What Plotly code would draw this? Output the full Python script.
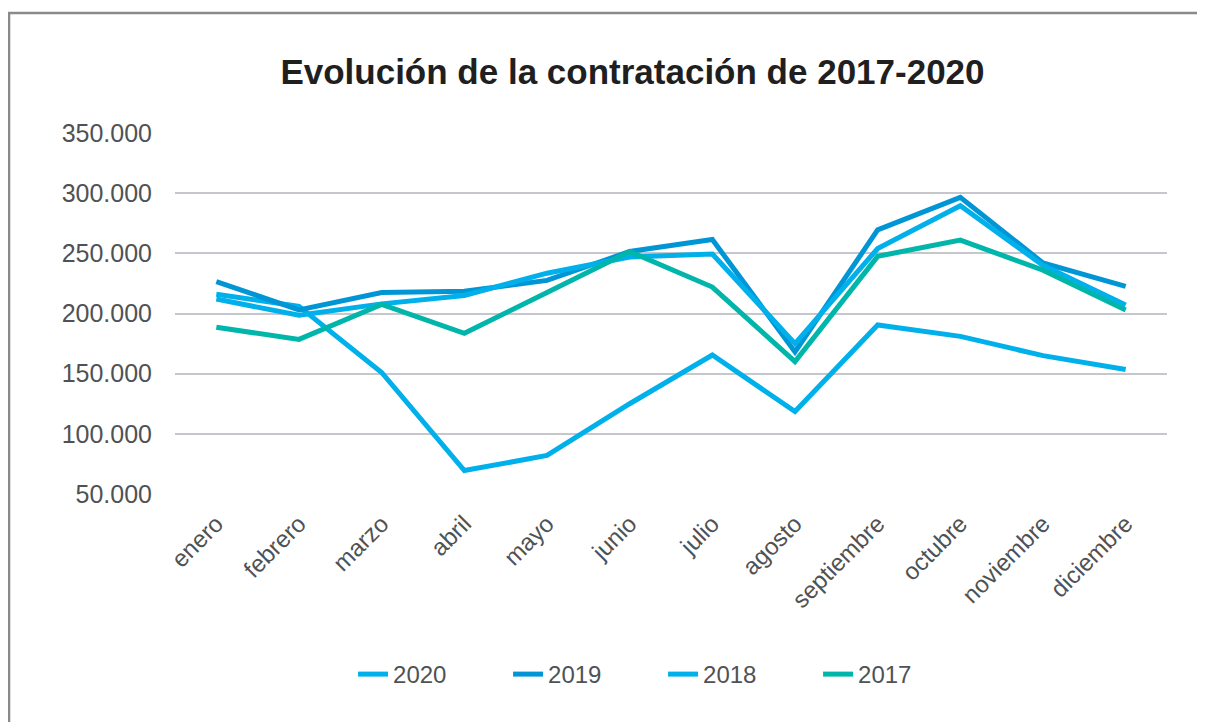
import plotly.graph_objects as go

meses = ["enero", "febrero", "marzo", "abril", "mayo", "junio", "julio",
         "agosto", "septiembre", "octubre", "noviembre", "diciembre"]
v2020 = [216000, 206000, 151000, 69500, 82000, 125000, 165500, 118500, 190500, 181000, 165000, 153500]
v2019 = [226500, 203000, 217500, 218500, 227500, 251500, 261500, 168000, 269500, 296500, 242000, 222500]
v2018 = [212000, 198500, 208000, 215000, 233500, 247000, 249500, 175000, 254000, 289500, 240000, 207000]
v2017 = [188500, 178500, 207500, 183500, 217500, 251500, 222000, 160000, 247500, 261000, 236000, 203000]

series = [("2020", v2020, "#00B0EA"), ("2019", v2019, "#0096D6"),
          ("2018", v2018, "#00B0EA"), ("2017", v2017, "#00B5AA")]

fig = go.Figure()
for name, vals, col in series:
    fig.add_trace(go.Scatter(x=meses, y=vals, name=name, mode="lines",
                             line=dict(color=col, width=5)))

fig.update_layout(
    width=1197, height=714,
    margin=dict(l=167, r=38, t=125, b=228, autoexpand=False),
    paper_bgcolor="white", plot_bgcolor="white",
    separators=",.",
    font=dict(family="Liberation Sans, Arial, sans-serif", color="#4f5254"),
    title=dict(text="<b>Evolución de la contratación de 2017-2020</b>",
               x=0.5217, xanchor="center", y=0.9104, yanchor="middle",
               font=dict(size=35, color="#1f1f1f")),
    showlegend=True,
    legend=dict(orientation="h", x=0.492, xanchor="center", y=-0.5, yanchor="middle",
                font=dict(size=24, color="#4f5254"), traceorder="normal",
                entrywidth=110, entrywidthmode="pixels"),
    shapes=[dict(type="rect", xref="paper", yref="paper",
                 x0=-0.1673, x1=1.2, y0=-0.8, y1=1.3324,
                 line=dict(color="#8a8a8a", width=2.5), fillcolor="rgba(0,0,0,0)",
                 layer="below")],
)
fig.update_xaxes(range=[-0.5, 11.5], showgrid=False, showline=False, zeroline=False,
                 tickangle=-45, automargin=False, ticklabelstandoff=10,
                 tickfont=dict(size=24, color="#4f5254"), ticks="")
fig.update_yaxes(range=[50000, 350000], dtick=50000, tickformat=",d",
                 showgrid=True, gridcolor="#C6C7CC", gridwidth=2,
                 zeroline=False, showline=False, ticks="", automargin=False,
                 ticklabelstandoff=22,
                 tickfont=dict(size=25, color="#4f5254"))

fig.write_html("out.html")
